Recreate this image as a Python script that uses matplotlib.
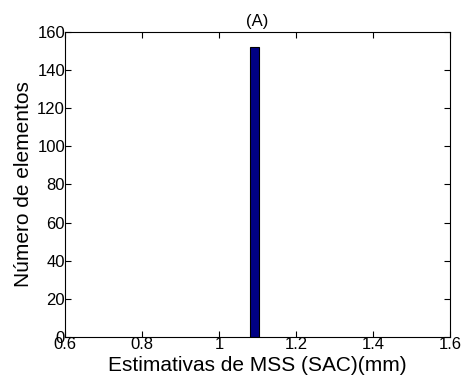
import numpy as np
import matplotlib
matplotlib.use('Agg')
import matplotlib.pyplot as plt
import matplotlib.ticker as ticker

plt.rcParams['font.family'] = ['Liberation Sans', 'DejaVu Sans']

# histogram data (single occupied bin)
bin_centers = [1.0915]
counts = [152]
bin_width = 0.022
x_ticks = [0.6, 0.8, 1.0, 1.2, 1.4, 1.6]
y_ticks = [0, 20, 40, 60, 80, 100, 120, 140, 160]

fig = plt.figure(figsize=(4.65, 3.88), dpi=100)
ax = fig.add_axes([0.14, 0.131, 0.828, 0.787])

ax.bar(bin_centers, counts, width=bin_width, color='#000084', edgecolor='black', linewidth=0.8)

ax.set_xlim(0.6, 1.6)
ax.set_ylim(0, 160)
ax.xaxis.set_major_locator(ticker.FixedLocator(x_ticks))
ax.yaxis.set_major_locator(ticker.FixedLocator(y_ticks))
ax.xaxis.set_major_formatter(ticker.FormatStrFormatter('%g'))
ax.yaxis.set_major_formatter(ticker.FormatStrFormatter('%g'))
ax.tick_params(direction='in', top=True, right=True, labelsize=12, length=4, pad=0)

ax.set_xlabel('Estimativas de MSS (SAC)(mm)', fontsize=15, labelpad=3)
ax.set_ylabel('Número de elementos', fontsize=15, labelpad=3)
ax.set_title('(A)', fontsize=12, pad=4)

for s in ax.spines.values():
    s.set_linewidth(0.8)

fig.savefig('out.png', dpi=100)
